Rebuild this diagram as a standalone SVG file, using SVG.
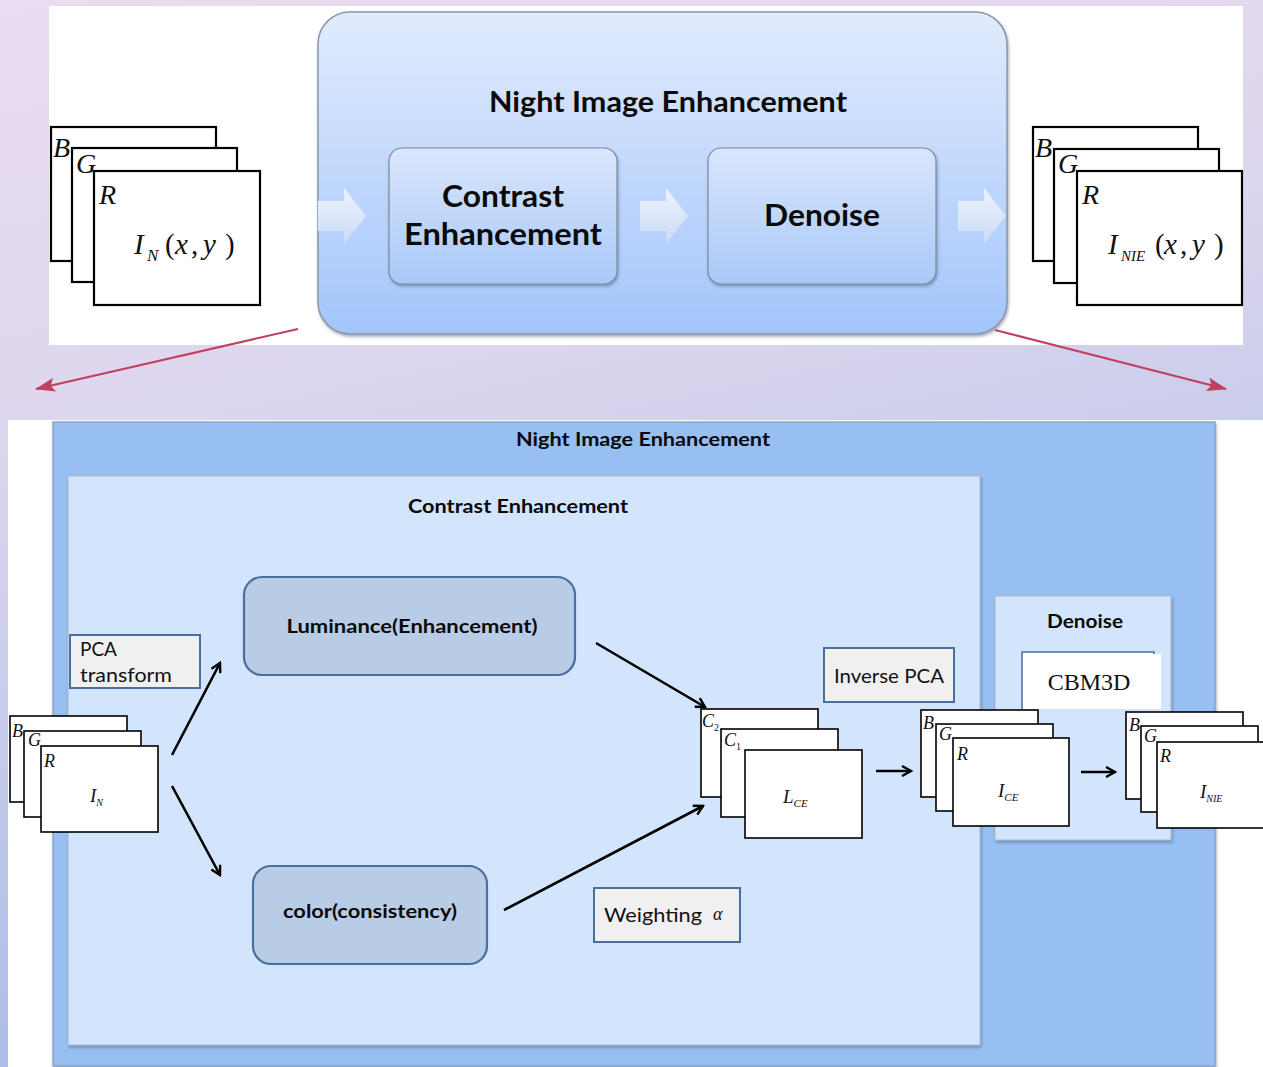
<svg xmlns="http://www.w3.org/2000/svg" width="1263" height="1067" viewBox="0 0 1263 1067">
  <defs>
    <linearGradient id="bg" x1="0" y1="0" x2="0.25" y2="1">
      <stop offset="0" stop-color="#eadcf1"/>
      <stop offset="0.4" stop-color="#dcd6ee"/>
      <stop offset="1" stop-color="#a6bbe6"/>
    </linearGradient>
    <linearGradient id="bigBox" x1="0" y1="0" x2="0" y2="1">
      <stop offset="0" stop-color="#e1ebfd"/>
      <stop offset="1" stop-color="#a3c5fb"/>
    </linearGradient>
    <linearGradient id="stepBox" x1="0" y1="0" x2="0" y2="1">
      <stop offset="0" stop-color="#d9e6fc"/>
      <stop offset="1" stop-color="#a9c8f8"/>
    </linearGradient>
    <linearGradient id="blockArrow" x1="0" y1="0" x2="0" y2="1">
      <stop offset="0" stop-color="#edf3fd"/>
      <stop offset="1" stop-color="#c9dbf8"/>
    </linearGradient>
    <filter id="shadow" x="-5%" y="-5%" width="110%" height="115%">
      <feDropShadow dx="1" dy="2" stdDeviation="1.5" flood-color="#324a6a" flood-opacity="0.45"/>
    </filter>
    <marker id="head" viewBox="0 0 12 12" refX="10" refY="6" markerWidth="12" markerHeight="12" markerUnits="userSpaceOnUse" orient="auto">
      <path d="M1,1 L10,6 L1,11" fill="none" stroke="#000" stroke-width="2.4"/>
    </marker>
    <marker id="redHead" viewBox="0 0 20 14" refX="19" refY="7" markerWidth="20" markerHeight="14" markerUnits="userSpaceOnUse" orient="auto">
      <path d="M0,0 L20,7 L0,14 L4,7 Z" fill="#c2405f"/>
    </marker>
    <style>
      .frame { fill: #fff; stroke: #000; stroke-width: 2.2; }
      .frameS { fill: #fff; stroke: #000; stroke-width: 1.6; }
      .math { font-family: "Liberation Serif", serif; font-style: italic; fill: #111; }
      .up { font-style: normal; }
      .cal { font-family: Lato, "Liberation Sans", sans-serif; fill: #111; }
      .calB { font-family: Lato, "Liberation Sans", sans-serif; font-weight: bold; fill: #0a0a0a; }
      .note { fill: #f0f0f0; stroke: #4a6f9f; stroke-width: 2; }
      .proc { fill: #b8cce6; stroke: #4a6f9f; stroke-width: 2.2; }
      .conn { stroke: #000; stroke-width: 2.6; fill: none; marker-end: url(#head); }
      .red { stroke: #c2405f; stroke-width: 2; fill: none; marker-end: url(#redHead); }
      .barrow { fill: url(#blockArrow); stroke: none; }
    </style>
  </defs>

  <!-- page background -->
  <rect x="0" y="0" width="1263" height="1067" fill="url(#bg)"/>

  <!-- upper overview panel -->
  <rect x="49" y="6" width="1194" height="339" fill="#fff"/>

  <g id="overview">
    <rect x="318" y="12" width="689" height="322" rx="32" fill="url(#bigBox)" stroke="#8a97a8" stroke-width="1.5" filter="url(#shadow)"/>
    <text class="calB" x="668" y="112" font-size="28" text-anchor="middle" textLength="358" lengthAdjust="spacingAndGlyphs">Night Image Enhancement</text>
  </g>

  <g id="step-contrast">
    <rect x="389" y="148" width="228" height="136" rx="13" fill="url(#stepBox)" stroke="#7f8a99" stroke-width="1.2" filter="url(#shadow)"/>
    <text class="calB" x="503" y="207" font-size="30" text-anchor="middle" textLength="122" lengthAdjust="spacingAndGlyphs">Contrast</text>
    <text class="calB" x="503" y="245" font-size="30" text-anchor="middle" textLength="198" lengthAdjust="spacingAndGlyphs">Enhancement</text>
  </g>

  <g id="step-denoise">
    <rect x="708" y="148" width="228" height="136" rx="13" fill="url(#stepBox)" stroke="#7f8a99" stroke-width="1.2" filter="url(#shadow)"/>
    <text class="calB" x="822" y="226" font-size="30" text-anchor="middle" textLength="116" lengthAdjust="spacingAndGlyphs">Denoise</text>
  </g>

  <!-- block arrows of the overview flow -->
  <g id="flow-arrows">
    <path class="barrow" d="M318,201 H344 V188 L366,216 L344,244 V231 H318 Z"/>
    <path class="barrow" d="M640,201 H666 V188 L688,216 L666,244 V231 H640 Z"/>
    <path class="barrow" d="M958,201 H984 V188 L1006,216 L984,244 V231 H958 Z"/>
  </g>

  <!-- input image I_N(x,y) -->
  <g id="input-image">
    <rect class="frame" x="51" y="127" width="165" height="134"/>
    <rect class="frame" x="72" y="148" width="165" height="134"/>
    <rect class="frame" x="94" y="171" width="166" height="134"/>
    <text class="math" x="53" y="157" font-size="28">B</text>
    <text class="math" x="76" y="173" font-size="28">G</text>
    <text class="math" x="99" y="204" font-size="28">R</text>
    <text class="math" y="254" font-size="29"><tspan x="134">I</tspan><tspan x="147" y="261" font-size="17">N</tspan><tspan class="up" x="165" y="254">(</tspan><tspan x="175">x</tspan><tspan class="up" x="191">,</tspan><tspan x="203">y</tspan><tspan class="up" x="225">)</tspan></text>
  </g>

  <!-- output image I_NIE(x,y) -->
  <g id="output-image">
    <rect class="frame" x="1033" y="127" width="165" height="134"/>
    <rect class="frame" x="1054" y="149" width="165" height="134"/>
    <rect class="frame" x="1077" y="171" width="165" height="134"/>
    <text class="math" x="1035" y="157" font-size="28">B</text>
    <text class="math" x="1058" y="173" font-size="28">G</text>
    <text class="math" x="1082" y="204" font-size="28">R</text>
    <text class="math" y="254" font-size="29"><tspan x="1108">I</tspan><tspan x="1121" y="261" font-size="15">NIE</tspan><tspan class="up" x="1155" y="254">(</tspan><tspan x="1164">x</tspan><tspan class="up" x="1180">,</tspan><tspan x="1192">y</tspan><tspan class="up" x="1214">)</tspan></text>
  </g>

  <!-- zoom-out pointers to the detailed view -->
  <g id="zoom-pointers">
    <path class="red" d="M298,329 L36,389"/>
    <path class="red" d="M995,330 L1226,389"/>
  </g>

  <!-- lower detailed panel -->
  <rect x="8" y="420" width="1255" height="647" fill="#fff"/>

  <g id="nie-panel">
    <rect x="53" y="422" width="1162" height="644" fill="#98bff1" stroke="#7f9cc6" stroke-width="1.2" filter="url(#shadow)"/>
    <text class="calB" x="643" y="446" font-size="19" text-anchor="middle" textLength="254" lengthAdjust="spacingAndGlyphs">Night Image Enhancement</text>
  </g>

  <g id="ce-panel">
    <rect x="68" y="476" width="912" height="569" fill="#d2e5fd" stroke="#aab8ca" stroke-width="1" filter="url(#shadow)"/>
    <text class="calB" x="518" y="513" font-size="19" text-anchor="middle" textLength="220" lengthAdjust="spacingAndGlyphs">Contrast Enhancement</text>
  </g>

  <g id="denoise-panel">
    <rect x="995" y="596" width="176" height="244" fill="#d2e5fd" stroke="#aab8ca" stroke-width="1" filter="url(#shadow)"/>
    <text class="calB" x="1085" y="628" font-size="19" text-anchor="middle" textLength="76" lengthAdjust="spacingAndGlyphs">Denoise</text>
  </g>

  <g id="cbm3d">
    <rect x="1022" y="652" width="132" height="56" fill="#fff" stroke="#4a6f9f" stroke-width="1.5"/>
    <rect x="1023" y="654" width="138" height="55" fill="#fff"/>
    <text x="1089" y="690" font-family="Liberation Serif, serif" font-size="24" fill="#111" text-anchor="middle">CBM3D</text>
  </g>

  <g id="luminance">
    <rect class="proc" x="244" y="577" width="331" height="98" rx="18"/>
    <text class="calB" x="412" y="633" font-size="19" text-anchor="middle" textLength="251" lengthAdjust="spacingAndGlyphs">Luminance(Enhancement)</text>
  </g>

  <g id="color">
    <rect class="proc" x="253" y="866" width="234" height="98" rx="18"/>
    <text class="calB" x="370" y="918" font-size="19" text-anchor="middle" textLength="174" lengthAdjust="spacingAndGlyphs">color(consistency)</text>
  </g>

  <g id="pca-transform">
    <rect class="note" x="70" y="635" width="130" height="53"/>
    <text class="cal" x="80" y="656" font-size="19" textLength="37" lengthAdjust="spacingAndGlyphs">PCA</text>
    <text class="cal" x="80" y="682" font-size="19" textLength="92" lengthAdjust="spacingAndGlyphs">transform</text>
  </g>

  <g id="inverse-pca">
    <rect class="note" x="824" y="648" width="130" height="54"/>
    <text class="cal" x="889" y="683" font-size="19" text-anchor="middle" textLength="110" lengthAdjust="spacingAndGlyphs">Inverse PCA</text>
  </g>

  <g id="weighting">
    <rect class="note" x="594" y="888" width="146" height="54"/>
    <text class="cal" x="604" y="922" font-size="19" textLength="98" lengthAdjust="spacingAndGlyphs">Weighting</text>
    <text class="math" x="713" y="920" font-size="18">α</text>
  </g>

  <!-- input image I_N -->
  <g id="in-stack">
    <rect class="frameS" x="10" y="716" width="117" height="86"/>
    <rect class="frameS" x="24" y="731" width="117" height="86"/>
    <rect class="frameS" x="41" y="746" width="117" height="86"/>
    <text class="math" x="12" y="737" font-size="18">B</text>
    <text class="math" x="28" y="746" font-size="18">G</text>
    <text class="math" x="44" y="767" font-size="18">R</text>
    <text class="math" x="90" y="802" font-size="19">I<tspan font-size="10" dy="4">N</tspan></text>
  </g>

  <!-- PCA channels C2, C1, L_CE -->
  <g id="pca-stack">
    <rect class="frameS" x="701" y="709" width="117" height="88"/>
    <rect class="frameS" x="721" y="729" width="117" height="88"/>
    <rect class="frameS" x="745" y="750" width="117" height="88"/>
    <text class="math" x="702" y="727" font-size="18">C<tspan class="up" font-size="10" dy="4">2</tspan></text>
    <text class="math" x="724" y="746" font-size="18">C<tspan class="up" font-size="10" dy="4">1</tspan></text>
    <text class="math" x="783" y="803" font-size="19">L<tspan font-size="11" dy="4">CE</tspan></text>
  </g>

  <!-- contrast-enhanced image I_CE -->
  <g id="ce-stack">
    <rect class="frameS" x="921" y="710" width="117" height="87"/>
    <rect class="frameS" x="936" y="724" width="117" height="87"/>
    <rect class="frameS" x="953" y="738" width="116" height="88"/>
    <text class="math" x="923" y="729" font-size="18">B</text>
    <text class="math" x="939" y="740" font-size="18">G</text>
    <text class="math" x="957" y="760" font-size="18">R</text>
    <text class="math" x="998" y="797" font-size="19">I<tspan font-size="11" dy="4">CE</tspan></text>
  </g>

  <!-- enhanced output I_NIE -->
  <g id="nie-stack">
    <rect class="frameS" x="1126" y="712" width="117" height="87"/>
    <rect class="frameS" x="1141" y="726" width="117" height="86"/>
    <rect class="frameS" x="1157" y="742" width="117" height="86"/>
    <text class="math" x="1129" y="731" font-size="18">B</text>
    <text class="math" x="1144" y="742" font-size="18">G</text>
    <text class="math" x="1160" y="762" font-size="18">R</text>
    <text class="math" x="1200" y="798" font-size="19">I<tspan font-size="10" dy="4">NIE</tspan></text>
  </g>

  <!-- data-flow connectors -->
  <g id="connectors">
    <path class="conn" d="M172,755 L220,663"/>
    <path class="conn" d="M172,786 L220,875"/>
    <path class="conn" d="M596,643 L705,707"/>
    <path class="conn" d="M504,910 L703,806"/>
    <path class="conn" d="M876,771 L911,771"/>
    <path class="conn" d="M1081,772 L1115,772"/>
  </g>
</svg>
